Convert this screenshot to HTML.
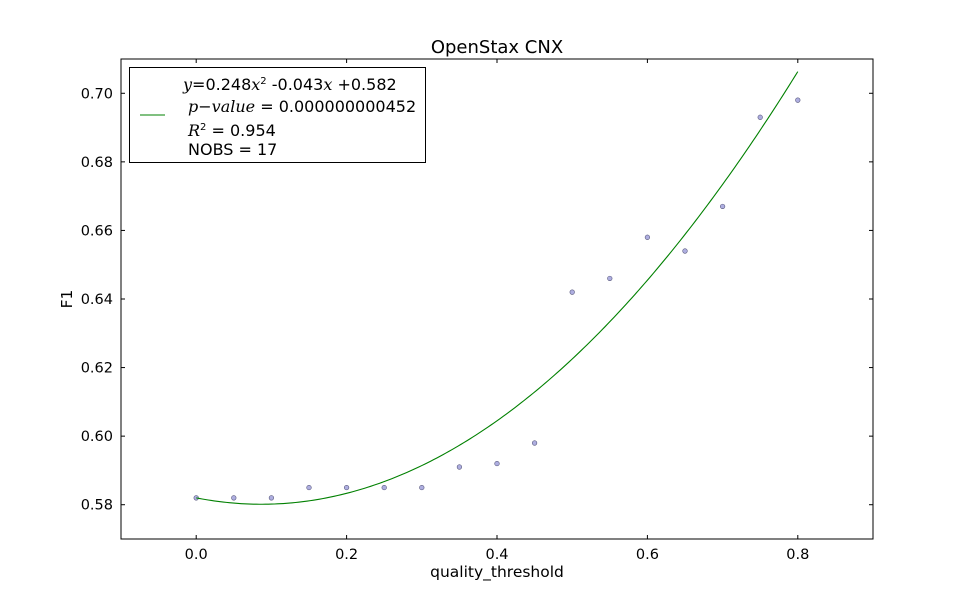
<!DOCTYPE html>
<html><head><meta charset="utf-8"><style>
body{margin:0;background:#fff;}
svg text{font-family:"DejaVu Sans","Liberation Sans",sans-serif;fill:#000;}
</style></head><body>
<svg id="chart" width="970" height="600" xmlns="http://www.w3.org/2000/svg">
<rect width="970" height="600" fill="#fff"/>
<text x="497" y="53" font-size="18" text-anchor="middle">OpenStax CNX</text>
<g id="marks"></g>
<rect x="121" y="59" width="752" height="480" fill="none" stroke="#000" stroke-width="1"/>
<g id="axes"></g>
<text x="497" y="577" font-size="15.5" text-anchor="middle">quality_threshold</text>
<text x="72" y="299" font-size="15.5" text-anchor="middle" transform="rotate(-90 72 299)">F1</text>
<g>
<rect x="129.5" y="67.5" width="296" height="95" fill="#fff" stroke="#000"/>
<line x1="140" y1="115" x2="165" y2="115" stroke="#008000" stroke-width="1"/>
<text x="183" y="90" font-size="16"><tspan font-style="italic" font-family="DejaVu Serif,serif">y</tspan>=0.248<tspan font-style="italic" font-family="DejaVu Serif,serif">x</tspan><tspan font-size="10" dy="-6">2</tspan><tspan dy="6">  -0.043</tspan><tspan font-style="italic" font-family="DejaVu Serif,serif">x</tspan> +0.582</text>
<text x="188" y="112" font-size="16"><tspan font-style="italic" font-family="DejaVu Serif,serif">p−value</tspan> = 0.000000000452</text>
<text x="188" y="136" font-size="16"><tspan font-style="italic" font-family="DejaVu Serif,serif">R</tspan><tspan font-size="10" dy="-6">2</tspan><tspan dy="6">  = 0.954</tspan></text>
<text x="188" y="155" font-size="16">NOBS = 17</text>
</g>
</svg>
<script>
const xValues=[0,0.05,0.1,0.15,0.2,0.25,0.3,0.35,0.4,0.45,0.5,0.55,0.6,0.65,0.7,0.75,0.8];
const f1Values=[0.582,0.582,0.582,0.585,0.585,0.585,0.585,0.591,0.592,0.598,0.642,0.646,0.658,0.654,0.667,0.693,0.698];
const fitCoeffs=[0.248,-0.043,0.582];
const xTicks=[0.0,0.2,0.4,0.6,0.8];
const yTicks=[0.58,0.60,0.62,0.64,0.66,0.68,0.70];
const NS='http://www.w3.org/2000/svg';
const X0=121,X1=873,Y0=539,Y1=59,xmin=-0.1,xmax=0.9,ymin=0.57,ymax=0.71;
const sx=v=>X0+(v-xmin)/(xmax-xmin)*(X1-X0);
const sy=v=>Y0-(v-ymin)/(ymax-ymin)*(Y0-Y1);
const marks=document.getElementById('marks'),axes=document.getElementById('axes');
function mk(t,a,p){const e=document.createElementNS(NS,t);for(const k in a)e.setAttribute(k,a[k]);p.appendChild(e);return e;}
xValues.forEach((x,i)=>{
 const c=mk('circle',{cx:sx(x),cy:sy(f1Values[i]),r:2.3,fill:'#9a9ad8','fill-opacity':0.8,stroke:'#55557a','stroke-width':0.6},marks);
 
 
});
let d='';
const xs=xValues[0],xe=xValues[xValues.length-1];
for(let k=0;k<=200;k++){const x=xs+(xe-xs)*k/200;const y=fitCoeffs[0]*x*x+fitCoeffs[1]*x+fitCoeffs[2];d+=(k?'L':'M')+sx(x).toFixed(2)+' '+sy(y).toFixed(2);}
const fl=mk('path',{d:d,fill:'none',stroke:'#008000','stroke-width':1.1},marks);


xTicks.forEach(v=>{
 const X=sx(v);
 mk('line',{x1:X,y1:Y0,x2:X,y2:Y0-4,stroke:'#000'},axes);
 mk('line',{x1:X,y1:Y1,x2:X,y2:Y1+4,stroke:'#000'},axes);
 const t=mk('text',{x:X,y:Y0+20,'font-size':14.5,'text-anchor':'middle'},axes);t.textContent=v.toFixed(1);
 
 
});
yTicks.forEach(v=>{
 const Y=sy(v);
 mk('line',{x1:X0,y1:Y,x2:X0+4,y2:Y,stroke:'#000'},axes);
 mk('line',{x1:X1,y1:Y,x2:X1-4,y2:Y,stroke:'#000'},axes);
 const t=mk('text',{x:X0-8,y:Y+5,'font-size':14.5,'text-anchor':'end'},axes);t.textContent=v.toFixed(2);
 
 
});
</script>
</body></html>
